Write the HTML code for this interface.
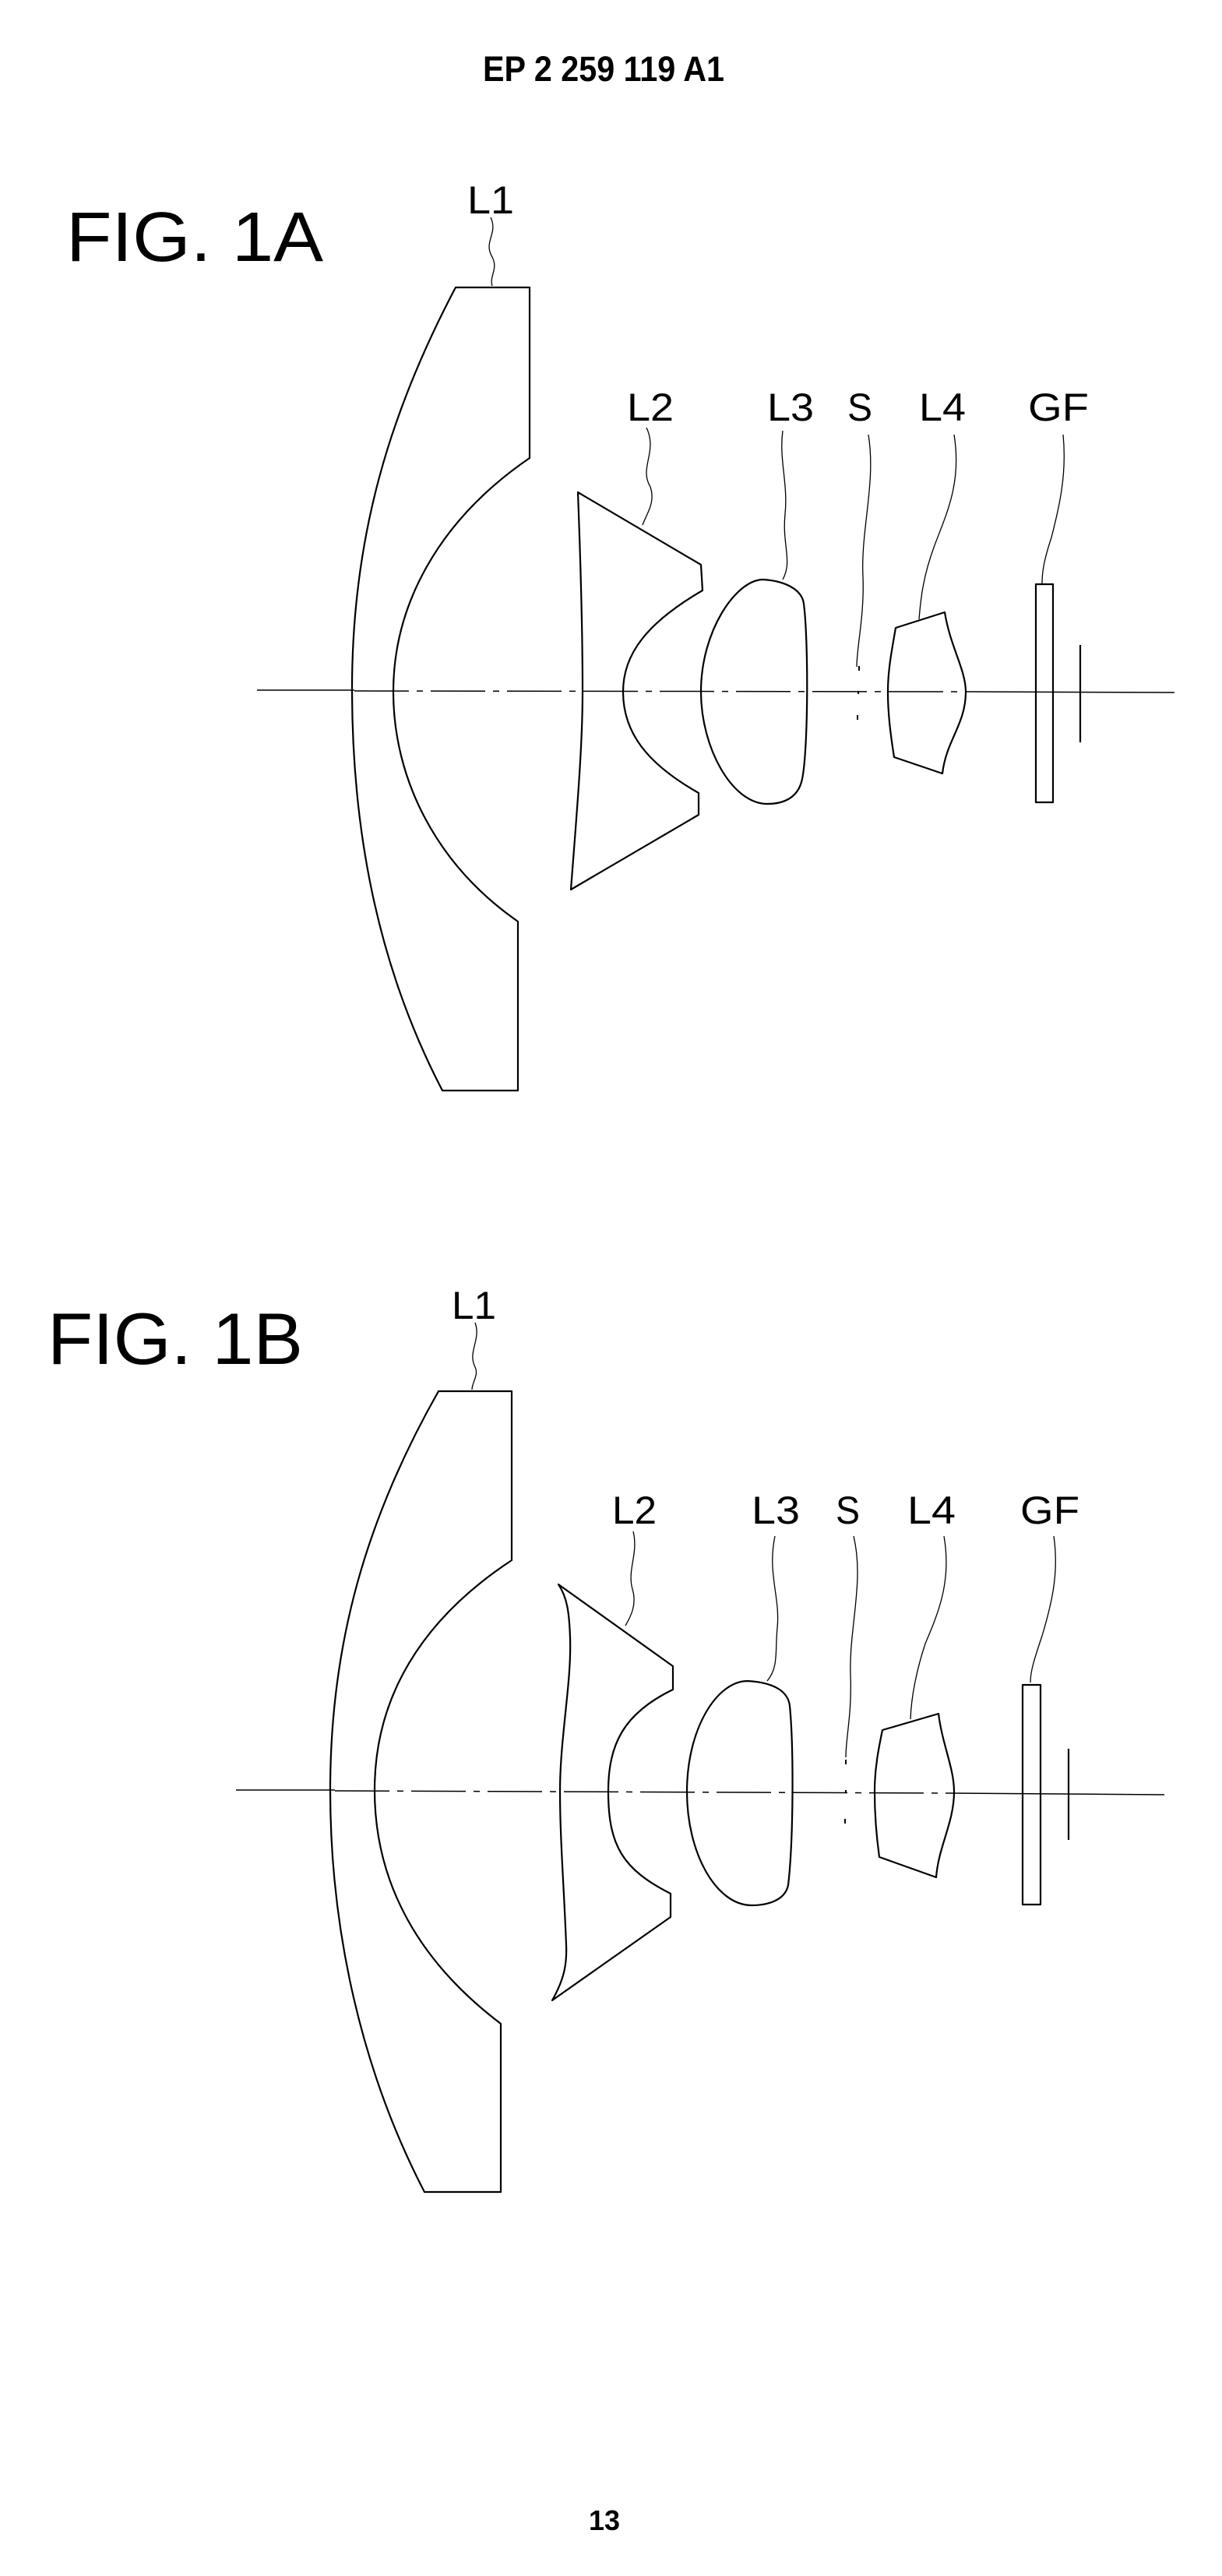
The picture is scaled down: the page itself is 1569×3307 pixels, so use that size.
<!DOCTYPE html>
<html><head><meta charset="utf-8"><style>
html,body{margin:0;padding:0;background:#fff}
svg{display:block}
text{font-family:"Liberation Sans",sans-serif;fill:#000}
</style></head><body>
<svg width="1569" height="3307" viewBox="0 0 1569 3307" xmlns="http://www.w3.org/2000/svg">
<g fill="none" stroke="#000" stroke-width="2.2" stroke-linejoin="round">
<line x1="330" y1="886" x2="455" y2="886" stroke-width="1.5"/>
<line x1="455" y1="887" x2="1250" y2="888" stroke-width="1.5" stroke-dasharray="70,10,8,10"/>
<line x1="1250" y1="888" x2="1508" y2="889" stroke-width="1.5"/>
<path d="M585,369 L680,369 L680,588 C560,670 505,780 505,888 C505,1000 560,1110 665,1183 L665,1400 L568,1400 C490,1250 452,1080 452,884 C452,690 500,530 585,369 Z"/>
<path d="M742,632 L900,725 L902,758 C830,800 800,840 800,888 C800,940 830,980 897,1018 L897,1046 L733,1142 C740,1050 748,960 748,888 C748,800 745,710 742,632 Z"/>
<path d="M980,744 C1010,746 1030,758 1032,775 C1038,820 1038,960 1030,1000 C1025,1025 1005,1032 985,1032 C940,1032 900,960 900,888 C900,810 945,744 980,744 Z"/>
<line x1="1103" y1="855" x2="1103" y2="861" stroke-width="2"/>
<line x1="1102" y1="887" x2="1102" y2="891" stroke-width="2"/>
<line x1="1101" y1="918" x2="1101" y2="924" stroke-width="2"/>
<path d="M1150,806 L1213,786 C1220,830 1240,860 1240,888 C1240,930 1215,950 1210,993 L1148,972 C1143,940 1140,915 1140,888 C1140,860 1145,835 1150,806 Z"/>
<rect x="1330" y="750" width="22" height="280"/>
<line x1="1387" y1="828" x2="1387" y2="953"/>
<g stroke-width="1.3">
<path d="M630,279 C640,300 620,310 632,330 C640,345 628,355 632,367"/>
<path d="M830,549 C845,580 820,600 835,625 C842,645 830,660 825,674"/>
<path d="M1005,553 C1000,590 1012,620 1008,660 C1004,700 1018,720 1005,744"/>
<path d="M1115,558 C1125,620 1105,680 1108,740 C1110,790 1100,830 1100,856"/>
<path d="M1225,558 C1235,620 1215,660 1200,700 C1185,740 1182,770 1180,795"/>
<path d="M1365,558 C1370,610 1360,650 1350,690 C1340,720 1338,735 1338,749"/>
</g>

<line x1="303" y1="2298" x2="430" y2="2298" stroke-width="1.5"/>
<line x1="430" y1="2299" x2="1220" y2="2302" stroke-width="1.5" stroke-dasharray="70,10,8,10"/>
<line x1="1220" y1="2302" x2="1495" y2="2304" stroke-width="1.5"/>
<path d="M563,1786 L657,1786 L657,2003 C540,2080 481,2180 481,2298 C481,2420 540,2520 643,2598 L643,2814 L545,2814 C465,2660 424,2480 424,2298 C424,2110 470,1950 563,1786 Z"/>
<path d="M717,2034 L864,2139 L864,2169 C800,2200 781,2240 781,2300 C781,2370 800,2400 861,2431 L861,2461 L709,2568 C725,2540 728,2520 727,2497 C724,2420 719,2360 719,2300 C719,2230 734,2160 732,2103 C731,2070 728,2050 717,2034 Z"/>
<path d="M960,2158 C995,2160 1012,2172 1014,2190 C1019,2240 1019,2360 1012,2420 C1008,2440 985,2446 965,2446 C920,2446 882,2380 882,2300 C882,2220 920,2158 960,2158 Z"/>
<line x1="1086" y1="2259" x2="1086" y2="2265" stroke-width="2"/>
<line x1="1086" y1="2298" x2="1086" y2="2302" stroke-width="2"/>
<line x1="1085" y1="2335" x2="1085" y2="2341" stroke-width="2"/>
<path d="M1133,2221 L1205,2200 C1210,2240 1225,2270 1225,2300 C1225,2340 1205,2370 1202,2410 L1129,2384 C1125,2355 1123,2325 1123,2300 C1123,2270 1128,2245 1133,2221 Z"/>
<rect x="1313" y="2163" width="23" height="282"/>
<line x1="1372" y1="2245" x2="1372" y2="2362"/>
<g stroke-width="1.3">
<path d="M610,1698 C618,1720 600,1735 610,1755 C615,1765 606,1775 606,1784"/>
<path d="M813,1966 C820,1995 805,2015 812,2040 C818,2060 810,2075 803,2087"/>
<path d="M995,1972 C985,2020 1002,2050 998,2090 C995,2120 1000,2140 985,2158"/>
<path d="M1096,1972 C1110,2030 1090,2090 1092,2150 C1094,2200 1086,2230 1086,2256"/>
<path d="M1212,1972 C1222,2030 1205,2070 1188,2110 C1175,2150 1170,2180 1169,2207"/>
<path d="M1353,1972 C1360,2020 1350,2060 1338,2100 C1328,2130 1323,2145 1323,2160"/>
</g>
</g>

<text x="620" y="104" font-size="45" font-weight="bold" textLength="310" lengthAdjust="spacingAndGlyphs">EP 2 259 119 A1</text>
<text x="85" y="335" font-size="90" textLength="330" lengthAdjust="spacingAndGlyphs">FIG. 1A</text>
<g font-size="50">
<text x="600" y="274" textLength="60" lengthAdjust="spacingAndGlyphs">L1</text>
<text x="805" y="540" textLength="60" lengthAdjust="spacingAndGlyphs">L2</text>
<text x="985" y="540" textLength="60" lengthAdjust="spacingAndGlyphs">L3</text>
<text x="1088" y="540" textLength="32" lengthAdjust="spacingAndGlyphs">S</text>
<text x="1180" y="540" textLength="60" lengthAdjust="spacingAndGlyphs">L4</text>
<text x="1320" y="540" textLength="78" lengthAdjust="spacingAndGlyphs">GF</text>
</g>
<text x="61" y="1751" font-size="94" textLength="328" lengthAdjust="spacingAndGlyphs">FIG. 1B</text>
<g font-size="50">
<text x="580" y="1693" textLength="57" lengthAdjust="spacingAndGlyphs">L1</text>
<text x="786" y="1956" textLength="57" lengthAdjust="spacingAndGlyphs">L2</text>
<text x="965" y="1956" textLength="62" lengthAdjust="spacingAndGlyphs">L3</text>
<text x="1073" y="1956" textLength="31" lengthAdjust="spacingAndGlyphs">S</text>
<text x="1165" y="1956" textLength="62" lengthAdjust="spacingAndGlyphs">L4</text>
<text x="1310" y="1956" textLength="76" lengthAdjust="spacingAndGlyphs">GF</text>
</g>
<text x="756" y="3248" font-size="36" font-weight="bold" textLength="40" lengthAdjust="spacingAndGlyphs">13</text>
</svg>
</body></html>
